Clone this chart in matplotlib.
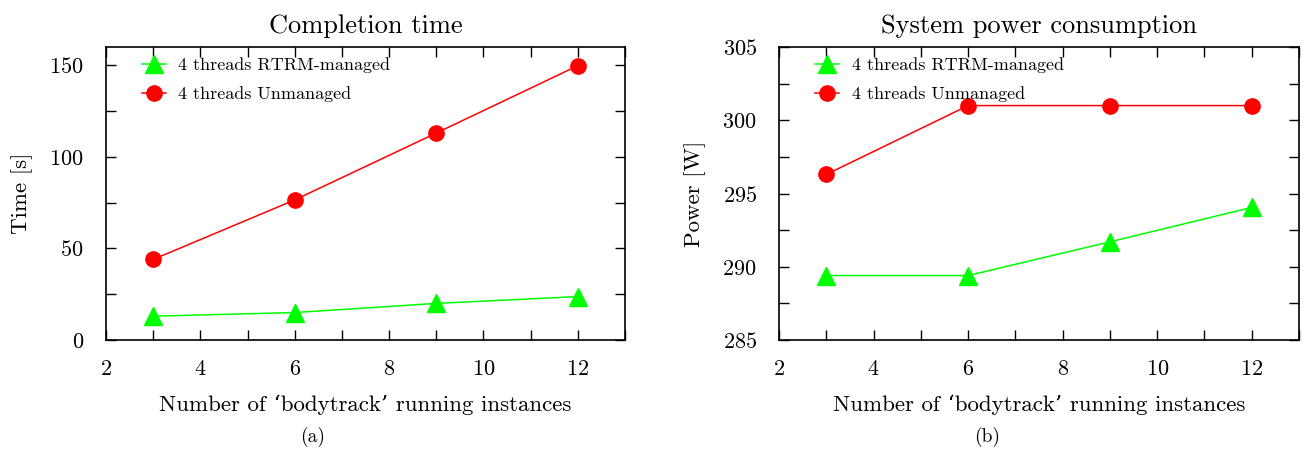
import matplotlib
matplotlib.use("Agg")
import matplotlib.pyplot as plt
from matplotlib.ticker import MultipleLocator

plt.rcParams['font.family'] = ['cmr10', 'DejaVu Serif']
plt.rcParams['mathtext.fontset'] = 'cm'
plt.rcParams['axes.formatter.use_mathtext'] = True

instances = [3, 6, 9, 12]
time_managed = [13.0, 15.0, 20.0, 23.7]
time_unmanaged = [44.0, 76.5, 113.0, 149.8]
power_managed = [289.4, 289.4, 291.7, 294.05]
power_unmanaged = [296.3, 301.0, 301.0, 301.0]
label_managed = "4 threads RTRM-managed"
label_unmanaged = "4 threads Unmanaged"

W, H = 1304, 451
fig = plt.figure(figsize=(W / 100, H / 100), dpi=100)
ax1 = fig.add_axes([106 / W, 0.2461, 519 / W, 0.6497])
ax2 = fig.add_axes([779 / W, 0.2461, 520 / W, 0.6497])

def draw(ax, managed, unmanaged, ylim, ymajor, yminor, title, ylabel):
    ax.plot(instances, managed, color='#00ff00', marker='^', markersize=13, lw=1.1,
            label=label_managed, clip_on=False, zorder=3)
    ax.plot(instances, unmanaged, color='#ff0000', marker='o', markersize=11, lw=1.1,
            label=label_unmanaged, clip_on=False, zorder=3)
    ax.set_xlim(2, 13)
    ax.set_ylim(*ylim)
    ax.xaxis.set_major_locator(MultipleLocator(2))
    ax.xaxis.set_minor_locator(MultipleLocator(1))
    ax.yaxis.set_major_locator(MultipleLocator(ymajor))
    ax.yaxis.set_minor_locator(MultipleLocator(yminor))
    ax.tick_params(which='both', direction='in', top=True, right=True, labelsize=16)
    ax.tick_params(axis='x', which='both', pad=14)
    ax.tick_params(axis='y', which='both', pad=16)
    ax.tick_params(which='both', length=7, width=1)
    for s in ax.spines.values():
        s.set_linewidth(1.2)
    ax.set_title(title, fontsize=19, pad=10)
    ax.set_xlabel("Number of \u2018bodytrack\u2019 running instances", fontsize=16.5, labelpad=11)
    ax.set_ylabel(ylabel, fontsize=16.5, labelpad=12)
    ax.legend(loc='upper left', frameon=False, fontsize=13, handlelength=1.3,
              borderaxespad=0.0, labelspacing=0.75, handletextpad=0.7,
              markerscale=1.0, borderpad=0.0,
              bbox_to_anchor=(0.07, 0.965))

draw(ax1, time_managed, time_unmanaged, (0, 160), 50, 25,
     "Completion time", "Time [s]")
draw(ax2, power_managed, power_unmanaged, (285, 305), 5, 2.5,
     "System power consumption", "Power [W]")

fig.text(313 / W, 1 - 437 / H, "(a)", ha='center', va='center', fontsize=14)
fig.text(987 / W, 1 - 437 / H, "(b)", ha='center', va='center', fontsize=14)

fig.savefig("out.png", dpi=100)
